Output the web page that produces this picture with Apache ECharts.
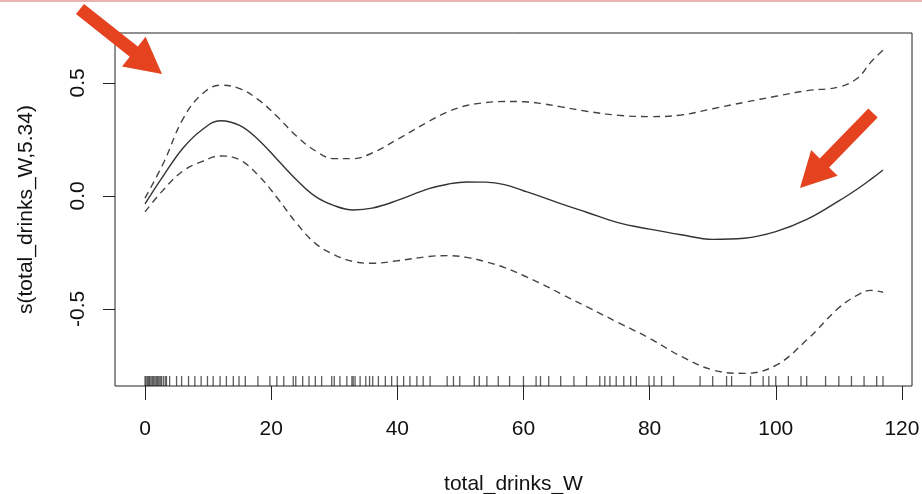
<!DOCTYPE html>
<html>
<head>
<meta charset="utf-8">
<script src="https://cdn.jsdelivr.net/npm/echarts@6/dist/echarts.min.js"></script>
<style>
html,body{margin:0;padding:0;background:#fff;}
#chart{width:922px;height:494px;}
</style>
</head>
<body>
<div id="chart"></div>
<script>
// ---- data ----
var xValues = [0,3,6,9,12,15,18,21,24,27,30,33,36,40,45,48,51,54,57,60,63,66,70,75,80,85,90,95,100,105,110,113,115,117];
var fitValues = [-0.035,0.093,0.211,0.292,0.333,0.312,0.248,0.160,0.072,-0.002,-0.043,-0.062,-0.054,-0.020,0.032,0.052,0.062,0.061,0.050,0.023,-0.005,-0.035,-0.072,-0.118,-0.147,-0.172,-0.192,-0.187,-0.158,-0.103,-0.022,0.032,0.072,0.115];
var upperValues = [-0.010,0.150,0.340,0.450,0.490,0.475,0.425,0.350,0.265,0.200,0.165,0.165,0.190,0.250,0.330,0.372,0.400,0.413,0.418,0.417,0.408,0.394,0.375,0.357,0.351,0.358,0.386,0.414,0.441,0.466,0.482,0.522,0.590,0.645];
var lowerValues = [-0.070,0.030,0.110,0.152,0.177,0.160,0.090,-0.010,-0.120,-0.210,-0.260,-0.290,-0.298,-0.287,-0.268,-0.264,-0.272,-0.291,-0.317,-0.352,-0.391,-0.434,-0.490,-0.560,-0.630,-0.710,-0.770,-0.785,-0.750,-0.635,-0.495,-0.438,-0.418,-0.426];
var rugValues = [0,0.16,0.37,0.58,0.74,0.95,1.16,1.37,1.58,1.79,2,2.2,2.4,2.6,2.9,3.2,3.4,3.9,5,5.8,6.9,7.9,8.9,9.9,10.8,11.9,12.9,14,14.9,15.9,17.9,19.8,20.9,22,23.5,23.9,25,26,27,28,29.6,30,30.9,32,32.8,33,33.3,34.1,35,35.6,36.1,37,38.1,39.1,40,41,42,43.1,44.1,45.2,47.9,48.9,49.9,52.2,53,54.2,56,57.8,60,62,62.7,64,65.9,68,70,72.1,72.9,73.7,74.7,75.9,77,77.9,79.9,80.7,81.9,83.8,88,90,92.2,93,96,98,98.9,100,102,104,104.9,107.9,110,112,114,116,117];
var xTicks = [0,20,40,60,80,100,120];
var yTicks = [-0.5,0,0.5];
var xTitle = 'total_drinks_W';
var yTitle = 's(total_drinks_W,5.34)';
// -----------------------------------------------

var FONT = '"Liberation Sans", Arial, Helvetica, sans-serif';
var X_MIN = -4.76, X_MAX = 121.6, Y_MIN = -0.841, Y_MAX = 0.721;

function pairs(ys){ return xValues.map(function(x,i){ return [x, ys[i]]; }); }

function arrow(tail, tip, shaftW, headW, headL, color){
  var dx = tip[0]-tail[0], dy = tip[1]-tail[1];
  var L = Math.sqrt(dx*dx+dy*dy);
  var ux = dx/L, uy = dy/L, nx = -uy, ny = ux;
  var bx = tip[0]-ux*headL, by = tip[1]-uy*headL;
  var pts = [
    [tail[0]+nx*shaftW/2, tail[1]+ny*shaftW/2],
    [bx+nx*shaftW/2, by+ny*shaftW/2],
    [bx+nx*headW/2, by+ny*headW/2],
    [tip[0], tip[1]],
    [bx-nx*headW/2, by-ny*headW/2],
    [bx-nx*shaftW/2, by-ny*shaftW/2],
    [tail[0]-nx*shaftW/2, tail[1]-ny*shaftW/2]
  ];
  return {type:'polygon', shape:{points:pts}, style:{fill:color}, z:100};
}

var chart = echarts.init(document.getElementById('chart'), null, {renderer:'canvas'});
var option = {
  animation:false,
  backgroundColor:'#fff',
  grid:{left:115, top:33, right:10, bottom:108, show:true, borderColor:'#222', borderWidth:1,
        backgroundColor:'transparent', containLabel:false, outerBoundsMode:'none'},
  xAxis:{
    type:'value', min:X_MIN, max:X_MAX,
    name:xTitle, nameLocation:'middle', nameGap:88,
    nameTextStyle:{fontFamily:FONT, fontSize:21, color:'#111'},
    axisLine:{show:false, onZero:false},
    splitLine:{show:false},
    axisTick:{show:true, customValues:xTicks, length:14, lineStyle:{color:'#222', width:1}},
    axisLabel:{customValues:xTicks, margin:33, fontFamily:FONT, fontSize:21, color:'#111'}
  },
  yAxis:{
    type:'value', min:Y_MIN, max:Y_MAX,
    name:yTitle, nameLocation:'middle', nameGap:78, nameRotate:90,
    nameTextStyle:{fontFamily:FONT, fontSize:21, color:'#111'},
    axisLine:{show:false, onZero:false},
    splitLine:{show:false},
    axisTick:{show:true, customValues:yTicks, length:12, lineStyle:{color:'#222', width:1}},
    axisLabel:{customValues:yTicks, rotate:90, margin:26, fontFamily:FONT, fontSize:21, color:'#111',
      formatter:function(v){ return v.toFixed(1); }}
  },
  series:[
    {type:'line', data:pairs(fitValues), smooth:0.4, showSymbol:false, silent:true,
     lineStyle:{color:'#333', width:1.4}},
    {type:'line', data:pairs(upperValues), smooth:0.4, showSymbol:false, silent:true,
     lineStyle:{color:'#444', width:1.4, type:[7,5]}},
    {type:'line', data:pairs(lowerValues), smooth:0.4, showSymbol:false, silent:true,
     lineStyle:{color:'#444', width:1.4, type:[7,5]}},
    {type:'scatter', data:rugValues.map(function(v){ return [v, Y_MIN]; }), symbol:'rect',
     symbolSize:[1.3,10], symbolOffset:[0,-5], silent:true, clip:false,
     itemStyle:{color:'rgba(0,0,0,0.8)'}}
  ],
  graphic:[
    {type:'rect', shape:{x:0, y:0, width:922, height:2}, style:{fill:'#e9b3ae'}, z:100},
    arrow([80,9],[162,74],13,38,36,'#e5431f'),
    arrow([873,113],[800,188],13,37,35,'#e5431f')
  ]
};
chart.setOption(option);
</script>
</body>
</html>
